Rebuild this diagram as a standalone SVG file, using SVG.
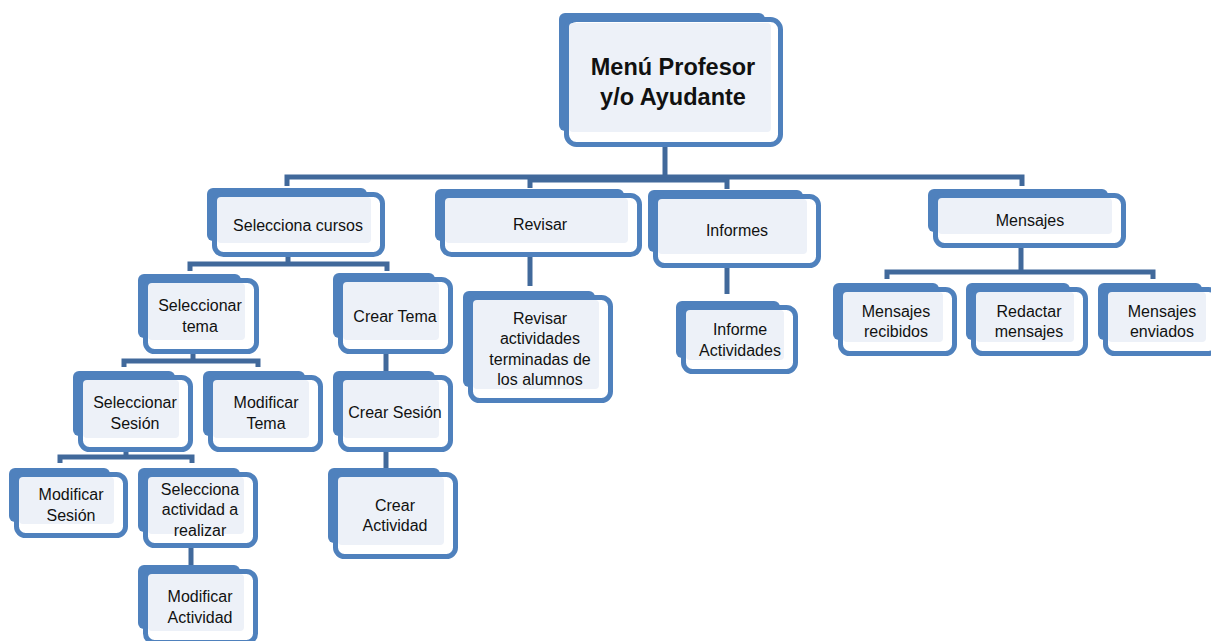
<svg xmlns="http://www.w3.org/2000/svg" width="1211" height="641" viewBox="0 0 1211 641">
  <style>
    .bk { fill: #4f81bd; }
    .fr { fill: #ffffff; stroke: #4f81bd; stroke-width: 5; }
    .lt { fill: #edf1f8; }
    .lnk { fill: none; stroke: #41699b; stroke-width: 5; stroke-linejoin: miter; }
    text { font-family: "Liberation Sans", Arial, sans-serif; font-size: 16px; fill: #111; text-anchor: middle; }
    .ttl { font-size: 23.5px; font-weight: bold; }
  </style>
  <rect width="1211" height="641" fill="#ffffff"/>

  <!-- tree connectors -->
  <g id="connectors" class="lnk">
    <path d="M665,146 V177"/>
    <path d="M287,186 V177 H1022 V186"/>
    <path d="M530,188 V180 H727 V189"/>
    <path d="M288,255 V264"/>
    <path d="M190,271 V264 H387 V271"/>
    <path d="M530,256 V286"/>
    <path d="M727,267 V294"/>
    <path d="M1021,247 V272"/>
    <path d="M887,279 V272 H1153 V279"/>
    <path d="M193,353 V361"/>
    <path d="M124,367 V361 H258 V367"/>
    <path d="M126,451 V457"/>
    <path d="M60,463 V457 H192 V463"/>
    <path d="M191,547 V569"/>
    <path d="M386,353 V375"/>
    <path d="M386,451 V472"/>
  </g>

  <!-- root -->
  <g id="menu-profesor">
    <rect class="bk" x="559" y="13" width="206" height="118" rx="6"/>
    <rect class="fr" x="566.5" y="19.5" width="214" height="125" rx="10"/>
    <rect class="lt" x="569" y="23" width="202" height="109" rx="4"/>
    <text class="ttl" x="673" y="75">Menú Profesor</text>
    <text class="ttl" x="673" y="105">y/o Ayudante</text>
  </g>

  <g id="selecciona-cursos">
    <rect class="bk" x="207" y="188" width="160" height="53" rx="6"/>
    <rect class="fr" x="214.5" y="194.5" width="168" height="60" rx="9"/>
    <rect class="lt" x="217" y="197" width="154" height="46" rx="4"/>
    <text x="298" y="231">Selecciona cursos</text>
  </g>

  <g id="revisar">
    <rect class="bk" x="435" y="189" width="189" height="52" rx="6"/>
    <rect class="fr" x="442.5" y="195.5" width="197" height="59" rx="9"/>
    <rect class="lt" x="445" y="198" width="183" height="45" rx="4"/>
    <text x="540" y="230">Revisar</text>
  </g>

  <g id="informes">
    <rect class="bk" x="648" y="190" width="155" height="62" rx="6"/>
    <rect class="fr" x="655.5" y="196.5" width="163" height="69" rx="9"/>
    <rect class="lt" x="658" y="199" width="149" height="55" rx="4"/>
    <text x="737" y="236">Informes</text>
  </g>

  <g id="mensajes">
    <rect class="bk" x="928" y="189" width="180" height="43" rx="6"/>
    <rect class="fr" x="935.5" y="195.5" width="188" height="50" rx="9"/>
    <rect class="lt" x="938" y="198" width="174" height="36" rx="4"/>
    <text x="1030" y="226">Mensajes</text>
  </g>

  <g id="mensajes-recibidos">
    <rect class="bk" x="833" y="283" width="106" height="57" rx="6"/>
    <rect class="fr" x="840.5" y="289.5" width="114" height="64" rx="9"/>
    <rect class="lt" x="843" y="292" width="100" height="50" rx="4"/>
    <text x="896" y="317">Mensajes</text>
    <text x="896" y="337">recibidos</text>
  </g>

  <g id="redactar-mensajes">
    <rect class="bk" x="966" y="283" width="104" height="57" rx="6"/>
    <rect class="fr" x="973.5" y="289.5" width="112" height="64" rx="9"/>
    <rect class="lt" x="976" y="292" width="98" height="50" rx="4"/>
    <text x="1029" y="317">Redactar</text>
    <text x="1029" y="337">mensajes</text>
  </g>

  <g id="mensajes-enviados">
    <rect class="bk" x="1098" y="283" width="104" height="57" rx="6"/>
    <rect class="fr" x="1105.5" y="289.5" width="112" height="64" rx="9"/>
    <rect class="lt" x="1108" y="292" width="98" height="50" rx="4"/>
    <text x="1162" y="317">Mensajes</text>
    <text x="1162" y="337">enviados</text>
  </g>

  <g id="revisar-actividades">
    <rect class="bk" x="463" y="291" width="132" height="96" rx="6"/>
    <rect class="fr" x="470.5" y="297.5" width="140" height="103" rx="9"/>
    <rect class="lt" x="473" y="300" width="126" height="89" rx="4"/>
    <text x="540" y="324">Revisar</text>
    <text x="540" y="344">actividades</text>
    <text x="540" y="365">terminadas de</text>
    <text x="540" y="385">los alumnos</text>
  </g>

  <g id="informe-actividades">
    <rect class="bk" x="676" y="301" width="104" height="57" rx="6"/>
    <rect class="fr" x="683.5" y="307.5" width="112" height="64" rx="9"/>
    <rect class="lt" x="686" y="310" width="98" height="50" rx="4"/>
    <text x="740" y="335">Informe</text>
    <text x="740" y="356">Actividades</text>
  </g>

  <g id="seleccionar-tema">
    <rect class="bk" x="138" y="274" width="103" height="64" rx="6"/>
    <rect class="fr" x="145.5" y="280.5" width="111" height="71" rx="9"/>
    <rect class="lt" x="148" y="283" width="97" height="57" rx="4"/>
    <text x="200" y="311">Seleccionar</text>
    <text x="200" y="332">tema</text>
  </g>

  <g id="crear-tema">
    <rect class="bk" x="333" y="273" width="102" height="65" rx="6"/>
    <rect class="fr" x="340.5" y="279.5" width="110" height="72" rx="9"/>
    <rect class="lt" x="343" y="282" width="96" height="58" rx="4"/>
    <text x="395" y="322">Crear Tema</text>
  </g>

  <g id="seleccionar-sesion">
    <rect class="bk" x="73" y="371" width="102" height="65" rx="6"/>
    <rect class="fr" x="80.5" y="377.5" width="110" height="72" rx="9"/>
    <rect class="lt" x="83" y="380" width="96" height="58" rx="4"/>
    <text x="135" y="408">Seleccionar</text>
    <text x="135" y="429">Sesión</text>
  </g>

  <g id="modificar-tema">
    <rect class="bk" x="203" y="371" width="102" height="65" rx="6"/>
    <rect class="fr" x="210.5" y="377.5" width="110" height="72" rx="9"/>
    <rect class="lt" x="213" y="380" width="96" height="58" rx="4"/>
    <text x="266" y="408">Modificar</text>
    <text x="266" y="429">Tema</text>
  </g>

  <g id="crear-sesion">
    <rect class="bk" x="333" y="371" width="102" height="65" rx="6"/>
    <rect class="fr" x="340.5" y="377.5" width="110" height="72" rx="9"/>
    <rect class="lt" x="343" y="380" width="96" height="58" rx="4"/>
    <text x="395" y="418">Crear Sesión</text>
  </g>

  <g id="modificar-sesion">
    <rect class="bk" x="9" y="468" width="101" height="54" rx="6"/>
    <rect class="fr" x="16.5" y="474.5" width="109" height="61" rx="9"/>
    <rect class="lt" x="19" y="477" width="95" height="47" rx="4"/>
    <text x="71" y="500">Modificar</text>
    <text x="71" y="521">Sesión</text>
  </g>

  <g id="selecciona-actividad">
    <rect class="bk" x="138" y="468" width="102" height="64" rx="6"/>
    <rect class="fr" x="145.5" y="474.5" width="110" height="71" rx="9"/>
    <rect class="lt" x="148" y="477" width="96" height="57" rx="4"/>
    <text x="200" y="495">Selecciona</text>
    <text x="200" y="515">actividad a</text>
    <text x="200" y="536">realizar</text>
  </g>

  <g id="crear-actividad">
    <rect class="bk" x="328" y="468" width="112" height="75" rx="6"/>
    <rect class="fr" x="335.5" y="474.5" width="120" height="82" rx="9"/>
    <rect class="lt" x="338" y="477" width="106" height="68" rx="4"/>
    <text x="395" y="511">Crear</text>
    <text x="395" y="531">Actividad</text>
  </g>

  <g id="modificar-actividad">
    <rect class="bk" x="138" y="565" width="102" height="64" rx="6"/>
    <rect class="fr" x="145.5" y="571.5" width="110" height="71" rx="9"/>
    <rect class="lt" x="148" y="574" width="96" height="57" rx="4"/>
    <text x="200" y="602">Modificar</text>
    <text x="200" y="623">Actividad</text>
  </g>
</svg>
